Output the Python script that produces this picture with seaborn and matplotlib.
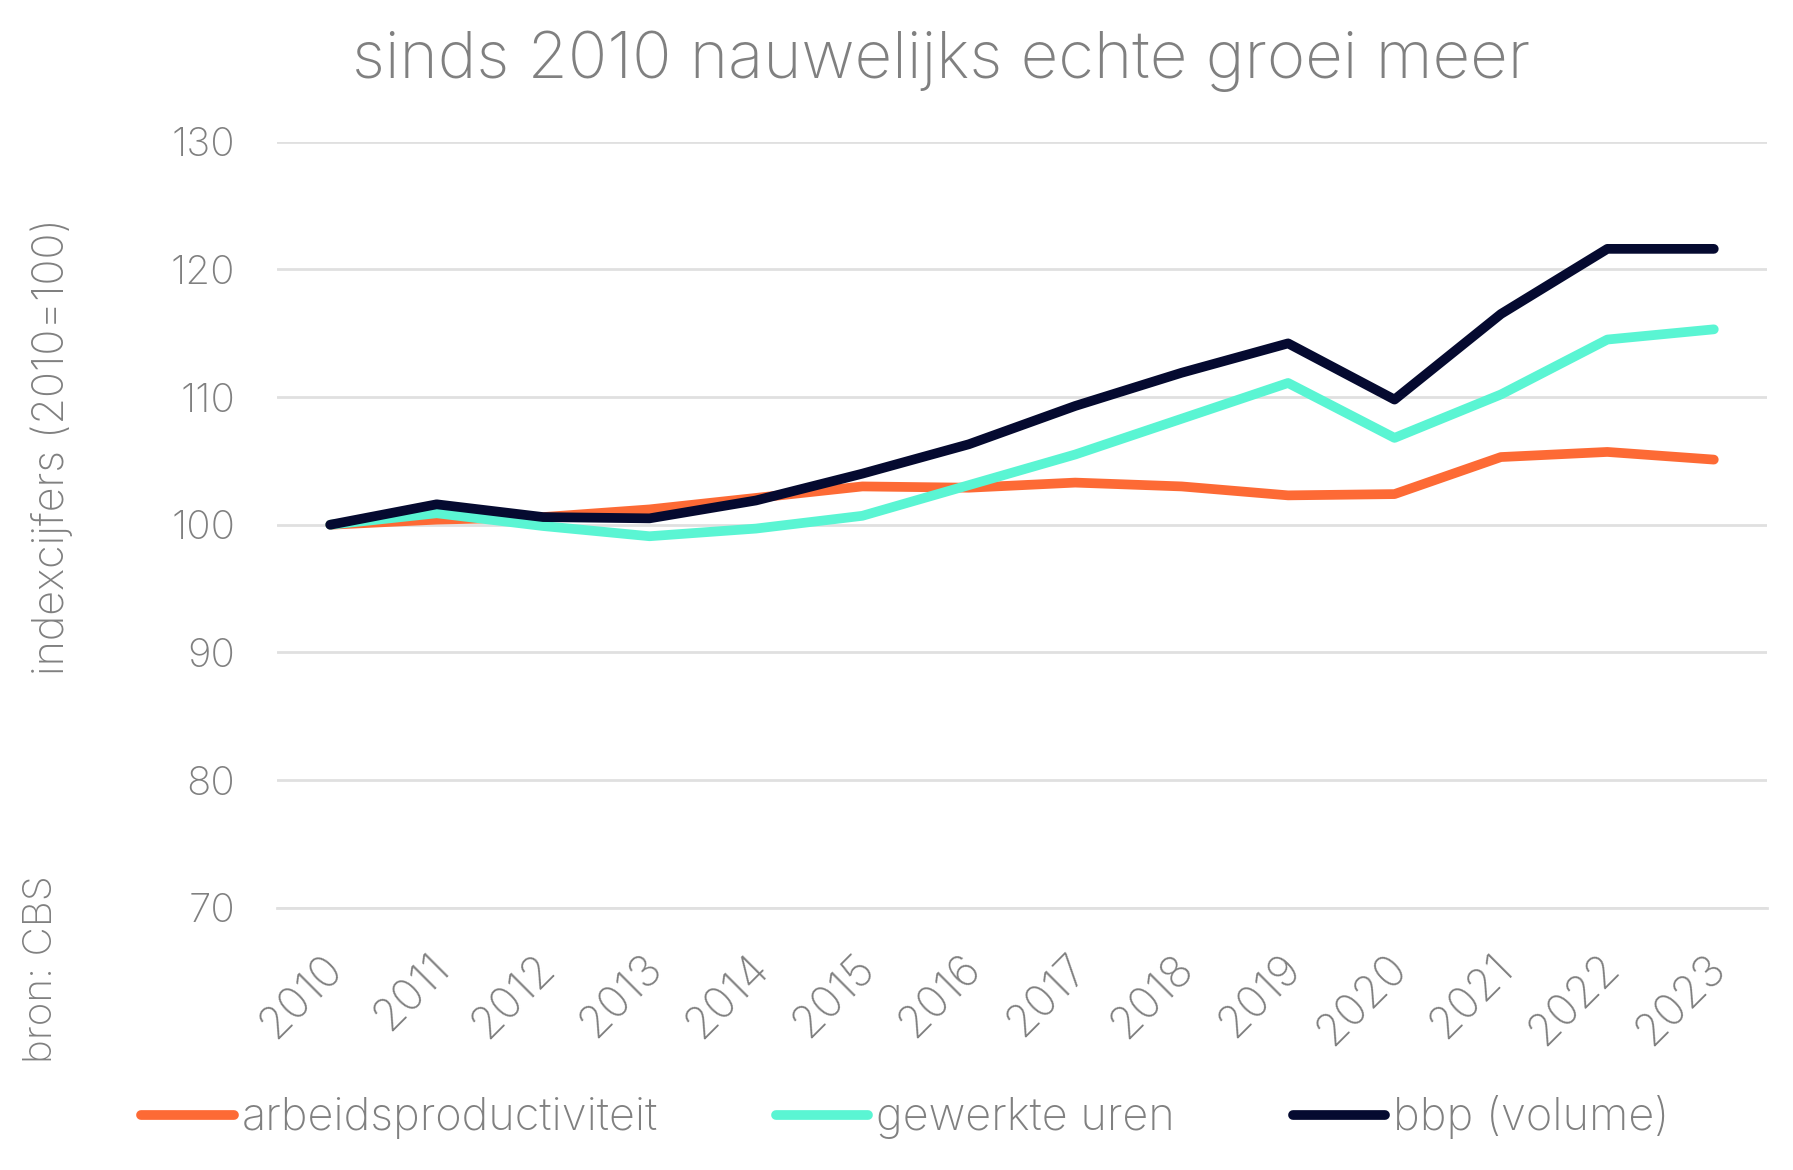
import matplotlib.pyplot as plt
import matplotlib.transforms as mtransforms
import pandas as pd
import seaborn as sns
from matplotlib.lines import Line2D
from matplotlib.ticker import FixedLocator, MultipleLocator

# Indexcijfers (2010=100), bron: CBS
years = [str(y) for y in range(2010, 2024)]
arbeidsproductiviteit = [100.0, 100.4, 100.6, 101.2, 102.1, 103.0, 102.9,
                         103.3, 103.0, 102.3, 102.4, 105.3, 105.7, 105.1]
gewerkte_uren = [100.0, 100.9, 99.9, 99.1, 99.7, 100.7, 103.1,
                 105.5, 108.3, 111.1, 106.8, 110.2, 114.5, 115.3]
bbp_volume = [100.0, 101.6, 100.6, 100.5, 101.9, 104.0, 106.3,
              109.3, 111.9, 114.2, 109.8, 116.5, 121.6, 121.6]

series_names = ["arbeidsproductiviteit", "gewerkte uren", "bbp (volume)"]
colors = ["#FD6A35", "#5AF5D3", "#050A30"]

title = "sinds 2010 nauwelijks echte groei meer"
ylabel = "indexcijfers (2010=100)"
source = "bron: CBS"

df = pd.DataFrame({
    "jaar": years * 3,
    "serie": [series_names[0]] * len(years) + [series_names[1]] * len(years)
             + [series_names[2]] * len(years),
    "waarde": arbeidsproductiviteit + gewerkte_uren + bbp_volume,
})

sns.set_theme(style="white")
plt.rcParams["font.family"] = ["Inter", "DejaVu Sans"]
plt.rcParams["font.weight"] = "light"
grey = "#808080"
light = "#E0E0E0"
lw = 7

fig = plt.figure(figsize=(17.93, 11.7), dpi=100)
ax = fig.add_axes([0.1545, 0.224, 0.831, 0.655])

sns.lineplot(data=df, x="jaar", y="waarde", hue="serie", hue_order=series_names,
             palette=colors, linewidth=lw, legend=False, ax=ax,
             solid_capstyle="round")

ax.set_ylim(70, 130)
ax.set_xlim(-0.5, len(years) - 0.5)
ax.yaxis.set_major_locator(MultipleLocator(10))
ax.grid(axis="y", color=light, linewidth=2)
ax.set_axisbelow(True)
for side in ["top", "right", "left"]:
    ax.spines[side].set_visible(False)
ax.spines["bottom"].set_color(light)
ax.spines["bottom"].set_linewidth(2)

ax.set_xlabel("")
ax.set_ylabel("")
ax.tick_params(axis="y", length=0, pad=30, labelsize=29, labelcolor=grey)
ax.tick_params(axis="x", which="major", length=0, pad=28, labelsize=32,
               labelcolor=grey)
ax.xaxis.set_minor_locator(FixedLocator([i - 0.5 for i in range(len(years) + 1)]))
ax.tick_params(axis="x", which="minor", length=10, width=2, color=light)
shift = mtransforms.ScaledTranslation(-9 / 100, 0, fig.dpi_scale_trans)
for lbl in ax.get_xticklabels():
    lbl.set_rotation(45)
    lbl.set_ha("right")
    lbl.set_va("top")
    lbl.set_rotation_mode("anchor")
    lbl.set_transform(lbl.get_transform() + shift)

fig.text(0.525, 0.933, title, ha="center", va="baseline", fontsize=47,
         color=grey)
fig.text(0.029, 0.618, ylabel, rotation=90, ha="center", va="center",
         fontsize=31, color=grey)
fig.text(0.023, 0.172, source, rotation=90, ha="center", va="center",
         fontsize=29, color=grey)

handles = [Line2D([0], [0], color=c, linewidth=lw, solid_capstyle="round")
           for c in colors]
fig.legend(handles, series_names, loc="center", bbox_to_anchor=(0.505, 0.045),
           ncol=3, frameon=False, fontsize=32.5, labelcolor=grey,
           handlelength=2.05, handletextpad=0.18, columnspacing=2.6)

fig.savefig("out.png", dpi=100)
